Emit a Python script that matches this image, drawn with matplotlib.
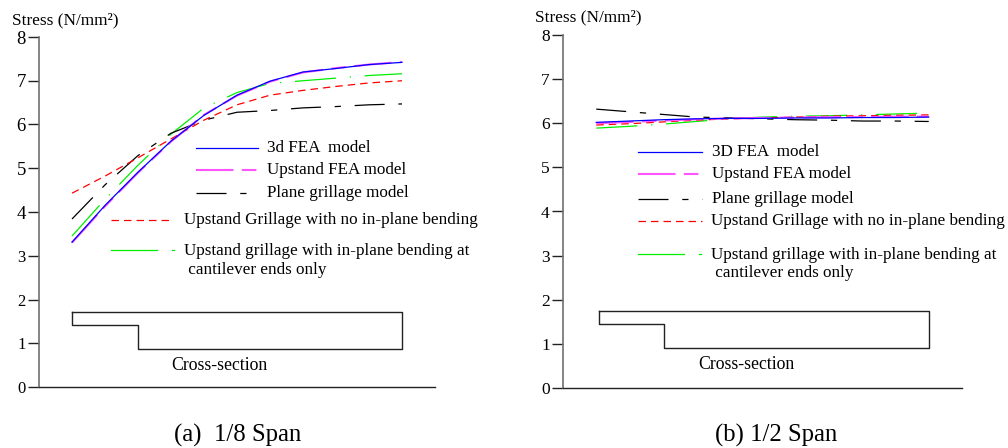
import numpy as np
import matplotlib
matplotlib.use('Agg')
import matplotlib.pyplot as plt
from matplotlib.lines import Line2D

plt.rcParams['font.family'] = ['Liberation Serif', 'DejaVu Serif']

# Positions along the deck (arbitrary units), shared by both panels
positions = [1, 2, 3, 4, 5, 6, 7, 8, 9, 10, 11]

# (a) 1/8 span
fea3d_a = [3.31, 4.15, 4.91, 5.62, 6.21, 6.67, 6.99, 7.20, 7.28, 7.37, 7.42]
upstand_fea_a = [3.30, 4.13, 4.90, 5.61, 6.22, 6.66, 6.98, 7.19, 7.29, 7.37, 7.43]
plane_grill_a = [3.84, 4.62, 5.29, 5.80, 6.10, 6.28, 6.32, 6.38, 6.41, 6.45, 6.47]
upstand_no_ipb_a = [4.43, 4.82, 5.24, 5.67, 6.10, 6.45, 6.67, 6.78, 6.87, 6.95, 7.00]
upstand_ipb_a = [3.45, 4.29, 5.07, 5.78, 6.38, 6.73, 6.94, 7.00, 7.06, 7.12, 7.16]

# (b) 1/2 span
fea3d_b = [6.02, 6.05, 6.08, 6.10, 6.11, 6.11, 6.12, 6.12, 6.13, 6.13, 6.14]
upstand_fea_b = [6.00, 6.03, 6.06, 6.09, 6.11, 6.12, 6.13, 6.14, 6.14, 6.15, 6.15]
plane_grill_b = [6.32, 6.26, 6.20, 6.14, 6.12, 6.10, 6.08, 6.07, 6.05, 6.05, 6.04]
upstand_no_ipb_b = [5.96, 5.99, 6.03, 6.07, 6.10, 6.12, 6.14, 6.16, 6.17, 6.18, 6.19]
upstand_ipb_b = [5.89, 5.93, 5.98, 6.04, 6.10, 6.14, 6.16, 6.17, 6.19, 6.21, 6.23]

# cross-section outline sketch (x, y in axis units)
xsec_x_a = [1, 11, 11, 3, 3, 1, 1]
xsec_y_a = [1.72, 1.72, 0.88, 0.88, 1.41, 1.41, 1.72]
xsec_x_b = [1.09, 11, 11, 3.05, 3.05, 1.09, 1.09]
xsec_y_b = [1.75, 1.75, 0.91, 0.91, 1.44, 1.44, 1.75]

yticks = [0, 1, 2, 3, 4, 5, 6, 7, 8]

# line styles
st_fea3d = dict(color='#0000ff', lw=0.9, ls='-')
st_upfea = dict(color='#ff55ff', lw=1.5, dashes=(18, 4, 7, 4))
st_plane = dict(color='black', lw=0.9, dashes=(24, 11, 5, 11))
st_noipb = dict(color='#ff0000', lw=0.9, dashes=(6, 4))
st_ipb = dict(color='#00ee00', lw=0.9, dashes=(33, 11, 1, 11))

LEG_FS = 12.3

fig = plt.figure(figsize=(10.08, 4.48), dpi=100)
ax_a = fig.add_axes([39 / 1008, 61 / 448, 396 / 1008, 350 / 448])
ax_b = fig.add_axes([563 / 1008, 60 / 448, 399 / 1008, 353 / 448])


def style_axes(ax):
    ax.set_xlim(0, 12)
    ax.set_ylim(0, 8)
    ax.spines['top'].set_visible(False)
    ax.spines['right'].set_visible(False)
    ax.spines['left'].set_color('#707070')
    ax.spines['left'].set_linewidth(1.2)
    ax.spines['bottom'].set_color('#222222')
    ax.spines['bottom'].set_linewidth(1.0)
    ax.set_xticks([])
    ax.set_yticks(yticks)
    ax.tick_params(axis='y', direction='out', length=8, width=1.0,
                   color='#222222', pad=1.5, labelsize=12.5)


def draw_panel(ax, fea3d, upfea, plane, noipb, ipb, xs_x, xs_y, leg, first_label):
    style_axes(ax)
    ax.plot(positions, ipb, **st_ipb)
    ax.plot(positions, plane, **st_plane)
    ax.plot(positions, noipb, **st_noipb)
    ax.plot(positions, upfea, **st_upfea)
    ax.plot(positions, fea3d, **st_fea3d)
    ax.plot(xs_x, xs_y, color='#222222', lw=1.0)

    # hand-placed legend, in axes fractions
    (x0, x1, xt, ys, x0b, x1red, x1b, xdot, xtb, y4, y5) = leg
    tr = ax.transAxes
    labels = [first_label, 'Upstand FEA model', 'Plane grillage model']
    for st, lab, yy in zip([st_fea3d, st_upfea, st_plane], labels, ys):
        ax.add_line(Line2D([x0, x1], [yy, yy], transform=tr, **st))
        ax.text(xt, yy, lab, transform=tr, va='center', ha='left', fontsize=LEG_FS)
    ax.add_line(Line2D([x0b, x1red], [y4, y4], transform=tr, **st_noipb))
    ax.text(xtb, y4, 'Upstand Grillage with no in-plane bending',
            transform=tr, va='center', ha='left', fontsize=LEG_FS)
    ax.add_line(Line2D([x0b, x1b], [y5, y5], transform=tr, color='#00ee00', lw=0.9))
    ax.add_line(Line2D([xdot - 0.002, xdot + 0.002], [y5, y5], transform=tr,
                       color='#00ee00', lw=0.9))
    ax.text(xtb, y5 - 0.0295, 'Upstand grillage with in-plane bending at\n cantilever ends only',
            transform=tr, va='center', ha='left', fontsize=LEG_FS, linespacing=1.2)


draw_panel(ax_a, fea3d_a, upstand_fea_a, plane_grill_a, upstand_no_ipb_a, upstand_ipb_a,
           xsec_x_a, xsec_y_a,
           (0.396, 0.553, 0.577, [0.684, 0.620, 0.555],
            0.182, 0.338, 0.298, 0.338, 0.367, 0.477, 0.391), '3d FEA  model')
draw_panel(ax_b, fea3d_b, upstand_fea_b, plane_grill_b, upstand_no_ipb_b, upstand_ipb_b,
           xsec_x_b, xsec_y_b,
           (0.189, 0.349, 0.373, [0.669, 0.605, 0.535],
            0.189, 0.349, 0.303, 0.343, 0.370, 0.473, 0.380), '3D FEA  model')

# left panel: upper tick labels are printed a touch larger
for lab in ax_a.get_yticklabels():
    if lab.get_text() in ('4', '5', '6', '7', '8'):
        lab.set_fontsize(13.5)
    else:
        lab.set_fontsize(12)

ax_a.text(4.0, 0.49, 'Cross-section', fontsize=12.8, va='center', ha='left')
ax_b.text(4.07, 0.54, 'Cross-section', fontsize=12.8, va='center', ha='left')

fig.text(12 / 1008, 1 - 20.7 / 448, 'Stress (N/mm²)', fontsize=12.4, va='center', ha='left')
fig.text(535 / 1008, 1 - 17 / 448, 'Stress (N/mm²)', fontsize=12.4, va='center', ha='left')

fig.text(237.5 / 1008, 1 - 435 / 448, '(a)  1/8 Span', fontsize=17.8, va='center', ha='center')
fig.text(776.5 / 1008, 1 - 435 / 448, '(b) 1/2 Span', fontsize=17.8, va='center', ha='center')

fig.savefig('out.png', dpi=100)
